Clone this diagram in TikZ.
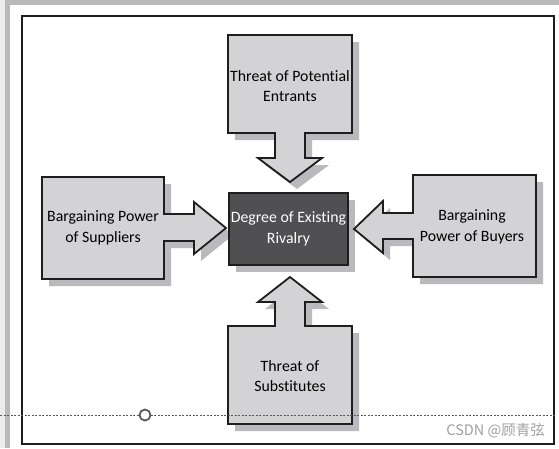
\documentclass[tikz,border=0pt]{standalone}
\usepackage{fontspec}
\setmainfont[RawFeature={-liga;-clig}]{Carlito}
\newfontfamily\cjkfont{Noto Sans CJK SC}
\definecolor{boxfill}{RGB}{211,211,214}
\definecolor{shadowc}{RGB}{185,185,190}
\definecolor{darkbox}{RGB}{80,80,82}
\definecolor{edgec}{RGB}{30,30,30}
\tikzset{
  shapebox/.style={fill=boxfill, draw=edgec, line width=1.8pt, line join=miter},
  shadowbox/.style={fill=shadowc, draw=none},
  lbl/.style={align=center, font=\fontsize{15.8}{20.5}\selectfont, text=black, inner sep=0pt},
}
\begin{document}
\begin{tikzpicture}[x=1pt,y=-1pt]
\useasboundingbox (0,0) rectangle (559,448);
% outer frame
\fill[gray!15] (0,0) rectangle (5,448);
\fill[gray!55] (5,0) rectangle (559,5);
\fill[gray!55] (5,0) rectangle (10,448);
\draw[edgec, line width=2pt] (22,16) rectangle (554,444);

% shape definitions
\def\topshape{(228,35) -- (352,35) -- (352,133) -- (305,133) -- (305,158) -- (322,158) -- (290,182) -- (258,158) -- (275,158) -- (275,133) -- (228,133) -- cycle}
\def\botshape{(228,424) -- (352,424) -- (352,326) -- (305,326) -- (305,302) -- (322,302) -- (290,277) -- (258,302) -- (275,302) -- (275,326) -- (228,326) -- cycle}
\def\leftshape{(42,177) -- (164,177) -- (164,214) -- (194,214) -- (194,202) -- (226,228) -- (194,254) -- (194,241) -- (164,241) -- (164,279) -- (42,279) -- cycle}
\def\rightshape{(536,175) -- (413,175) -- (413,213) -- (383,213) -- (383,201) -- (354,229) -- (383,253) -- (383,239) -- (413,239) -- (413,277) -- (536,277) -- cycle}

% shadows
\begin{scope}[shift={(7,7)}]
\fill[shadowc] \topshape;
\fill[shadowc] \botshape;
\fill[shadowc] \leftshape;
\fill[shadowc] \rightshape;
\fill[shadowc] (229,193) rectangle (348,265);
\end{scope}

% shapes
\draw[shapebox] \topshape;
\draw[shapebox] \botshape;
\draw[shapebox] \leftshape;
\draw[shapebox] \rightshape;
\draw[fill=darkbox, draw=edgec, line width=1.8pt] (229,193) rectangle (348,265);

% labels
\node[lbl] (entrants) at (290,86) {Threat of Potential\\Entrants};
\node[lbl] (suppliers) at (103,228) {Bargaining Power\\of Suppliers};
\node[lbl] (buyers) at (472,227) {Bargaining\\Power of Buyers};
\node[lbl] (subst) at (290,376) {Threat of\\Substitutes};
\node[lbl, text=white] (rivalry) at (288.5,229) {Degree of Existing\\Rivalry};

% dashed guide line with handle
\coordinate (dl) at (0,415);
\coordinate (dr) at (555,415);
\draw[gray!70!black, line width=0.7pt, dash pattern=on 2pt off 1.5pt] (dl) -- (dr);
\node[circle, draw=gray!70!black, line width=1.8pt, fill=white, minimum size=11pt, inner sep=0pt] (handle) at (145,415) {};

% watermark
\node[text=gray!75, font=\cjkfont\fontsize{14.5}{16}\selectfont, inner sep=0pt, anchor=east] (wm) at (545,431) {CSDN @顾青弦};
\end{tikzpicture}
\end{document}
